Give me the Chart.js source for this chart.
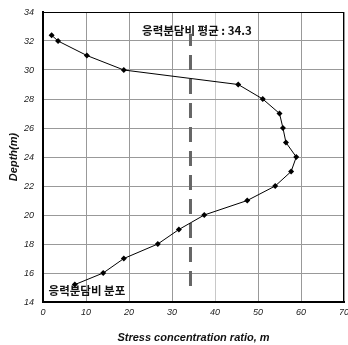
<!DOCTYPE html>
<html>
<head>
<meta charset="utf-8">
<script src="https://cdn.jsdelivr.net/npm/chart.js@4"></script>
<style>
  html, body { margin: 0; padding: 0; background: #fff; }
  #wrap { width: 348px; height: 345px; }
</style>
</head>
<body>
<div id="wrap"><canvas id="chart"></canvas></div>
<script>
// stress concentration ratio vs depth
const depths = [32.4, 32, 31, 30, 29, 28, 27, 26, 25, 24, 23, 22, 21, 20, 19, 18, 17, 16, 15.2];
const ratios = [2.0, 3.5, 10.2, 18.8, 45.4, 51.1, 55.0, 55.8, 56.5, 58.9, 57.7, 54.0, 47.5, 37.5, 31.6, 26.7, 18.8, 14.0, 7.4];
const meanRatio = 34.3;
const meanLineDepths = [15.1, 32.5];
const meanLabel = '응력분담비 평균 : 34.3';
const seriesLabel = '응력분담비 분포';
const xTicks = [0, 10, 20, 30, 40, 50, 60, 70];
const yTicks = [14, 16, 18, 20, 22, 24, 26, 28, 30, 32, 34];

const tickFont = { family: 'Liberation Sans, Arial, sans-serif', size: 9, style: 'italic' };
const titleFont = { family: 'Liberation Sans, Arial, sans-serif', size: 11, style: 'italic', weight: 'bold' };
const krFont = 'bold 11.5px "Noto Sans CJK KR", sans-serif';

const labelsPlugin = {
    id: 'labels',
    afterDatasetsDraw(chart) {
        const { ctx, chartArea, scales } = chart;
        ctx.save();
        // frame around plot
        ctx.strokeStyle = '#000';
        ctx.lineWidth = 1;
        ctx.strokeRect(chartArea.left, chartArea.top + 0.5, chartArea.right - chartArea.left - 0.5, chartArea.bottom - chartArea.top);
        ctx.fillStyle = '#111';
        ctx.font = krFont;
        ctx.textBaseline = 'middle';
        ctx.textAlign = 'center';
        ctx.fillText(meanLabel, scales.x.getPixelForValue(35.8), scales.y.getPixelForValue(32.7));
        ctx.textAlign = 'left';
        ctx.fillText(seriesLabel, scales.x.getPixelForValue(1.3), scales.y.getPixelForValue(14.8));
        ctx.restore();
    }
};

function fixAxis(size) {
    return function (scale) {
        if (scale.isHorizontal()) scale.height = size; else scale.width = size;
        scale.paddingLeft = 0;
        scale.paddingRight = 0;
        scale.paddingTop = 0;
        scale.paddingBottom = 0;
    };
}

new Chart(document.getElementById('chart'), {
    type: 'scatter',
    data: {
        datasets: [{
            data: ratios.map((r, i) => ({ x: r, y: depths[i] })),
            showLine: true,
            borderColor: '#000',
            borderWidth: 1,
            pointStyle: 'rectRot',
            pointRadius: 3,
            pointBackgroundColor: '#000',
            pointBorderColor: '#000',
            pointBorderWidth: 0
        }, {
            data: meanLineDepths.map(d => ({ x: meanRatio, y: d })),
            showLine: true,
            borderColor: '#666',
            borderWidth: 3,
            borderDash: [15, 9],
            pointRadius: 0
        }]
    },
    options: {
        responsive: true,
        maintainAspectRatio: false,
        animation: false,
        layout: { padding: { top: 12, right: 4, left: 0, bottom: 0 } },
        plugins: { legend: { display: false }, tooltip: { enabled: false } },
        scales: {
            x: {
                type: 'linear',
                min: 0,
                max: 70,
                afterBuildTicks: s => { s.ticks = xTicks.map(v => ({ value: v })); },
                afterFit: fixAxis(43),
                grid: {
                    color: c => c.tick && c.tick.value === 40 ? '#c8c8c8' : '#999',
                    lineWidth: 1,
                    drawTicks: false
                },
                border: { color: '#000', width: 2 },
                ticks: { color: '#222', font: tickFont, padding: 5, maxRotation: 0 },
                title: { display: true, text: 'Stress concentration ratio, m', color: '#111', font: titleFont, padding: { top: 9, bottom: 0 } }
            },
            y: {
                type: 'linear',
                min: 14,
                max: 34,
                afterBuildTicks: s => { s.ticks = yTicks.map(v => ({ value: v })); },
                afterFit: fixAxis(43),
                grid: { color: '#999', lineWidth: 1, drawTicks: false },
                border: { color: '#000', width: 2 },
                ticks: { color: '#222', font: tickFont, padding: 9 },
                title: { display: true, text: 'Depth(m)', color: '#111', font: titleFont, padding: { top: 7, bottom: 2 } }
            }
        }
    },
    plugins: [labelsPlugin]
});
</script>
</body>
</html>
